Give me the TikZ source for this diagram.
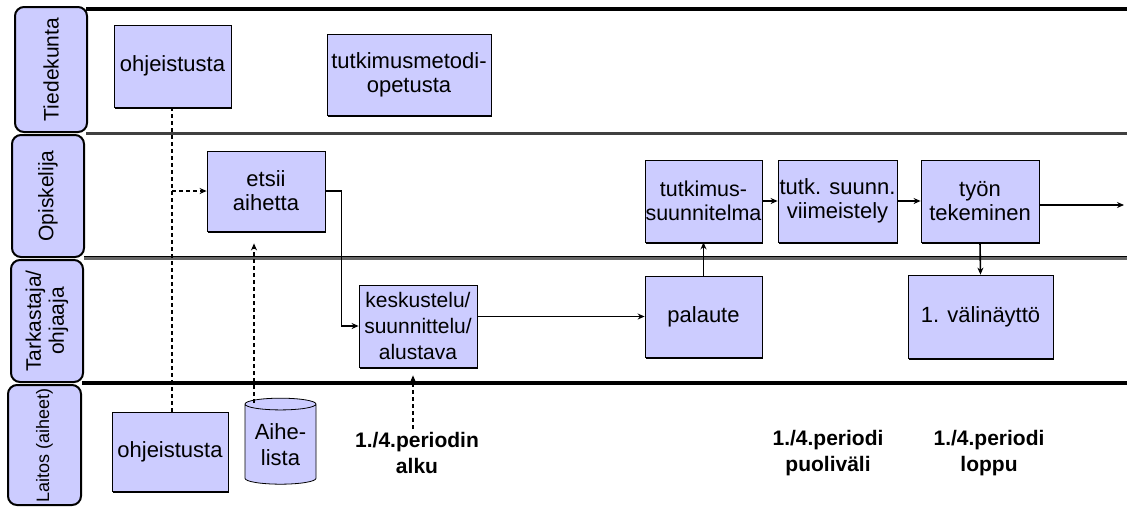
\documentclass[tikz,border=0pt]{standalone}
\usepackage{fontspec}
\setmainfont{Liberation Sans}
\usetikzlibrary{arrows.meta,shapes.geometric,shadows}
\definecolor{lav}{HTML}{CCCCFF}
\tikzset{
  box/.style={draw=black, line width=0.8pt, fill=lav, align=center, inner sep=0pt,
    general shadow={fill=black, shadow xshift=1pt, shadow yshift=-1.8pt},
    font=\fontsize{22}{24}\selectfont},
  lane/.style={draw=black, line width=2pt, fill=lav, rounded corners=9pt},
  lanetext/.style={rotate=90, align=center, font=\fontsize{21}{23}\selectfont},
  period/.style={align=center, font=\bfseries\fontsize{21}{26}\selectfont},
  conn/.style={line width=1.6pt, -{Stealth[length=7pt,width=6pt]}},
  dconn/.style={line width=1.3pt, dash pattern=on 4pt off 3pt},
}
\begin{document}
\begin{tikzpicture}[x=1pt,y=-1pt]
\useasboundingbox[fill=white] (0,0) rectangle (1127,507);

% lane separators
\draw[line width=4pt] (86,9) -- (1127,9);
\draw[line width=3pt, black!75] (86,133) -- (1127,133);
\draw[line width=4pt, black!60] (84,258) -- (1127,258);
\draw[line width=1.5pt, black] (84,256.5) -- (1127,256.5);
\draw[line width=3.5pt] (82,383) -- (1127,383);

% lane labels
\draw[lane] (15,7) rectangle (87,132);
\node[lanetext] (l1) at (51,69.5) {Tiedekunta};
\draw[lane] (12,135) rectangle (84,257);
\node[lanetext] (l2) at (48,196) {Opiskelija};
\draw[lane] (11,260) rectangle (83,382);
\node[lanetext] (l3) at (47,321) {Tarkastaja/\\ohjaaja};
\draw[lane] (8,385) rectangle (81,505);
\node[lanetext, font=\fontsize{18}{22}\selectfont] (l4) at (44.5,445) {Laitos (aiheet)};

% boxes
\node[box, minimum width=117pt, minimum height=82pt] (ohjT) at (172.5,66) {ohjeistusta};
\node[box, minimum width=164pt, minimum height=81pt] (metodi) at (409,74.5) {tutkimusmetodi-\\opetusta};
\node[box, minimum width=118pt, minimum height=80pt] (etsii) at (266,191) {etsii\\aihetta};
\node[box, minimum width=118pt, minimum height=82pt, font=\fontsize{21}{26}\selectfont] (kesk) at (418,326) {keskustelu/\\suunnittelu/\\alustava};
\node[box, minimum width=117pt, minimum height=81pt] (palaute) at (703.5,316.5) {palaute};
\node[box, minimum width=117pt, minimum height=82pt, font=\fontsize{21.5}{24}\selectfont] (suunn) at (703.5,201) {tutkimus-\\suunnitelma};
\node[box, minimum width=119pt, minimum height=82pt] (viim) at (837.5,201) {tutk. suunn.\\viimeistely};
\node[box, minimum width=118pt, minimum height=82pt] (tyon) at (980,201) {työn\\tekeminen};
\node[box, minimum width=145pt, minimum height=83pt] (vali) at (980.5,316.5) {1. välinäyttö};
\node[box, minimum width=116pt, minimum height=79pt] (ohjB) at (170,451.5) {ohjeistusta};
\node[draw=black, line width=0.8pt, fill=lav, cylinder, shape border rotate=90, aspect=0.22,
      minimum width=71pt, minimum height=86pt, align=center, inner sep=1pt,
      font=\fontsize{22}{26}\selectfont] (aihe) at (280.5,445) {Aihe-\\lista};

% period labels
\node[period] (alku) at (417,453) {1./4.periodin\\alku};
\node[period] (puol) at (828,453) {1./4.periodi\\puoliväli};
\node[period] (loppu) at (989,453) {1./4.periodi\\loppu};

% connectors
\coordinate (j1) at (172,191);
\draw[dconn] (j1 |- ohjT.south) -- (j1 |- ohjB.north);
\draw[dconn, -{Stealth[length=7pt,width=6pt]}] (j1) -- (etsii.west);
\coordinate (a1) at (254,403);
\draw[dconn, -{Stealth[length=7pt,width=6pt]}, shorten >=12pt] (a1) -- (a1 |- etsii.south);
\draw[conn] (etsii.east) -- ++(16,0) |- (kesk.west);
\draw[conn] (palaute.west -| kesk.east) -- (palaute.west);
\draw[conn] (palaute.north) -- (suunn.south);
\draw[conn] (suunn.east) -- (viim.west);
\draw[conn] (viim.east) -- (tyon.west);
\coordinate (out) at (1124,205);
\draw[conn, line width=2.4pt] (tyon.east |- out) -- (out);
\draw[conn] (tyon.south) -- (vali.north);
\draw[dconn, -{Stealth[length=7pt,width=6pt]}, shorten >=8pt] ([xshift=-4pt]alku.north) -- ([xshift=-4pt]alku.north |- kesk.south);
\end{tikzpicture}
\end{document}
